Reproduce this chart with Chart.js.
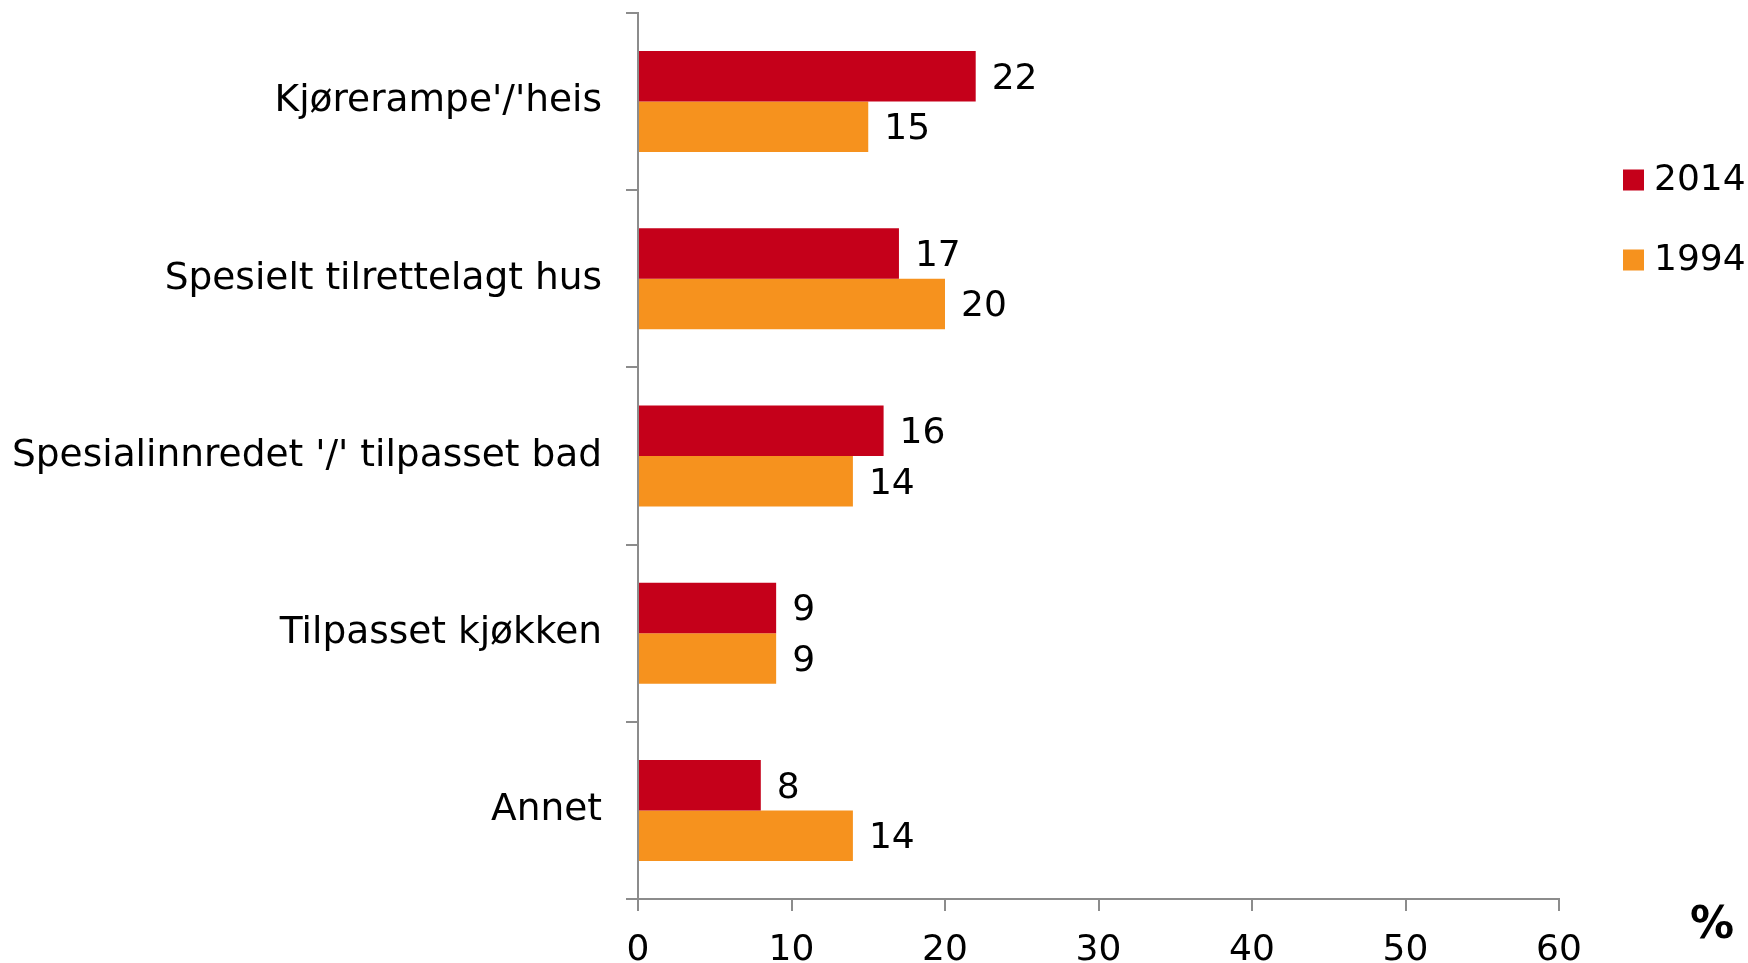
<!DOCTYPE html>
<html>
<head>
<meta charset="utf-8">
<script src="https://cdn.jsdelivr.net/npm/chart.js@4"></script>
<style>
  html, body { margin: 0; padding: 0; background: #ffffff; }
  #wrap { position: relative; width: 1748px; height: 963px; }
</style>
</head>
<body>
<div id="wrap"><canvas id="c" width="1748" height="963"></canvas></div>
<script>
const categories = ["Kjørerampe'/'heis", "Spesielt tilrettelagt hus", "Spesialinnredet '/' tilpasset bad", "Tilpasset kjøkken", "Annet"];
const seriesNames = ["2014", "1994"];
const values2014 = [22, 17, 16, 9, 8];
const values1994 = [15, 20, 14, 9, 14];
const xTicks = [0, 10, 20, 30, 40, 50, 60];
const unitLabel = "%";

const FONT = "'DejaVu Sans', Verdana, sans-serif";
const AXIS = "#8c8c8c";
const colors = ["#C5001A", "#F6921E"];

const overlay = {
  id: 'overlay',
  afterDatasetsDraw(chart) {
    const ctx = chart.ctx;
    ctx.save();
    ctx.font = "36px " + FONT;
    ctx.fillStyle = "#000";
    ctx.textAlign = "left";
    ctx.textBaseline = "middle";
    chart.data.datasets.forEach((ds, di) => {
      const meta = chart.getDatasetMeta(di);
      meta.data.forEach((bar, i) => {
        ctx.fillText(String(ds.data[i]), bar.x + 16, bar.y + 3);
      });
    });
    // legend
    const legY = [180, 260];
    chart.data.datasets.forEach((ds, di) => {
      ctx.fillStyle = ds.backgroundColor;
      ctx.fillRect(1623, legY[di] - 10.5, 21, 21);
      ctx.fillStyle = "#000";
      ctx.fillText(ds.label, 1654, legY[di] + 1);
    });
    // unit
    ctx.font = "bold 44px " + FONT;
    ctx.textAlign = "center";
    ctx.fillText(unitLabel, 1712, 927);
    ctx.restore();
  }
};

new Chart(document.getElementById('c'), {
  type: 'bar',
  data: {
    labels: categories,
    datasets: [
      { label: seriesNames[0], data: values2014, backgroundColor: colors[0] },
      { label: seriesNames[1], data: values1994, backgroundColor: colors[1] }
    ]
  },
  options: {
    indexAxis: 'y',
    responsive: false,
    animation: false,
    devicePixelRatio: 1,
    categoryPercentage: 0.57,
    barPercentage: 1.0,
    layout: { padding: { left: 0, right: 189, top: 13, bottom: 0 } },
    plugins: { legend: { display: false }, tooltip: { enabled: false } },
    scales: {
      x: {
        min: 0, max: 60,
        afterBuildTicks(scale) { scale.ticks = xTicks.map(v => ({ value: v })); },
        afterFit(scale) { scale.height = 64; scale.paddingLeft = 0; scale.paddingRight = 0; },
        border: { display: true, color: AXIS, width: 2 },
        grid: { drawOnChartArea: false, drawTicks: true, tickLength: 12, color: AXIS, lineWidth: 2 },
        ticks: { color: "#000", font: { family: FONT, size: 36 }, padding: 18, maxRotation: 0 }
      },
      y: {
        afterFit(scale) { scale.width = 638; scale.paddingTop = 0; scale.paddingBottom = 0; },
        border: { display: true, color: AXIS, width: 2 },
        grid: { offset: true, drawOnChartArea: false, drawTicks: true, tickLength: 12, color: AXIS, lineWidth: 2 },
        ticks: { color: "#000", font: { family: FONT, size: 37.5 }, padding: 24 }
      }
    }
  },
  plugins: [overlay]
});
</script>
</body>
</html>
